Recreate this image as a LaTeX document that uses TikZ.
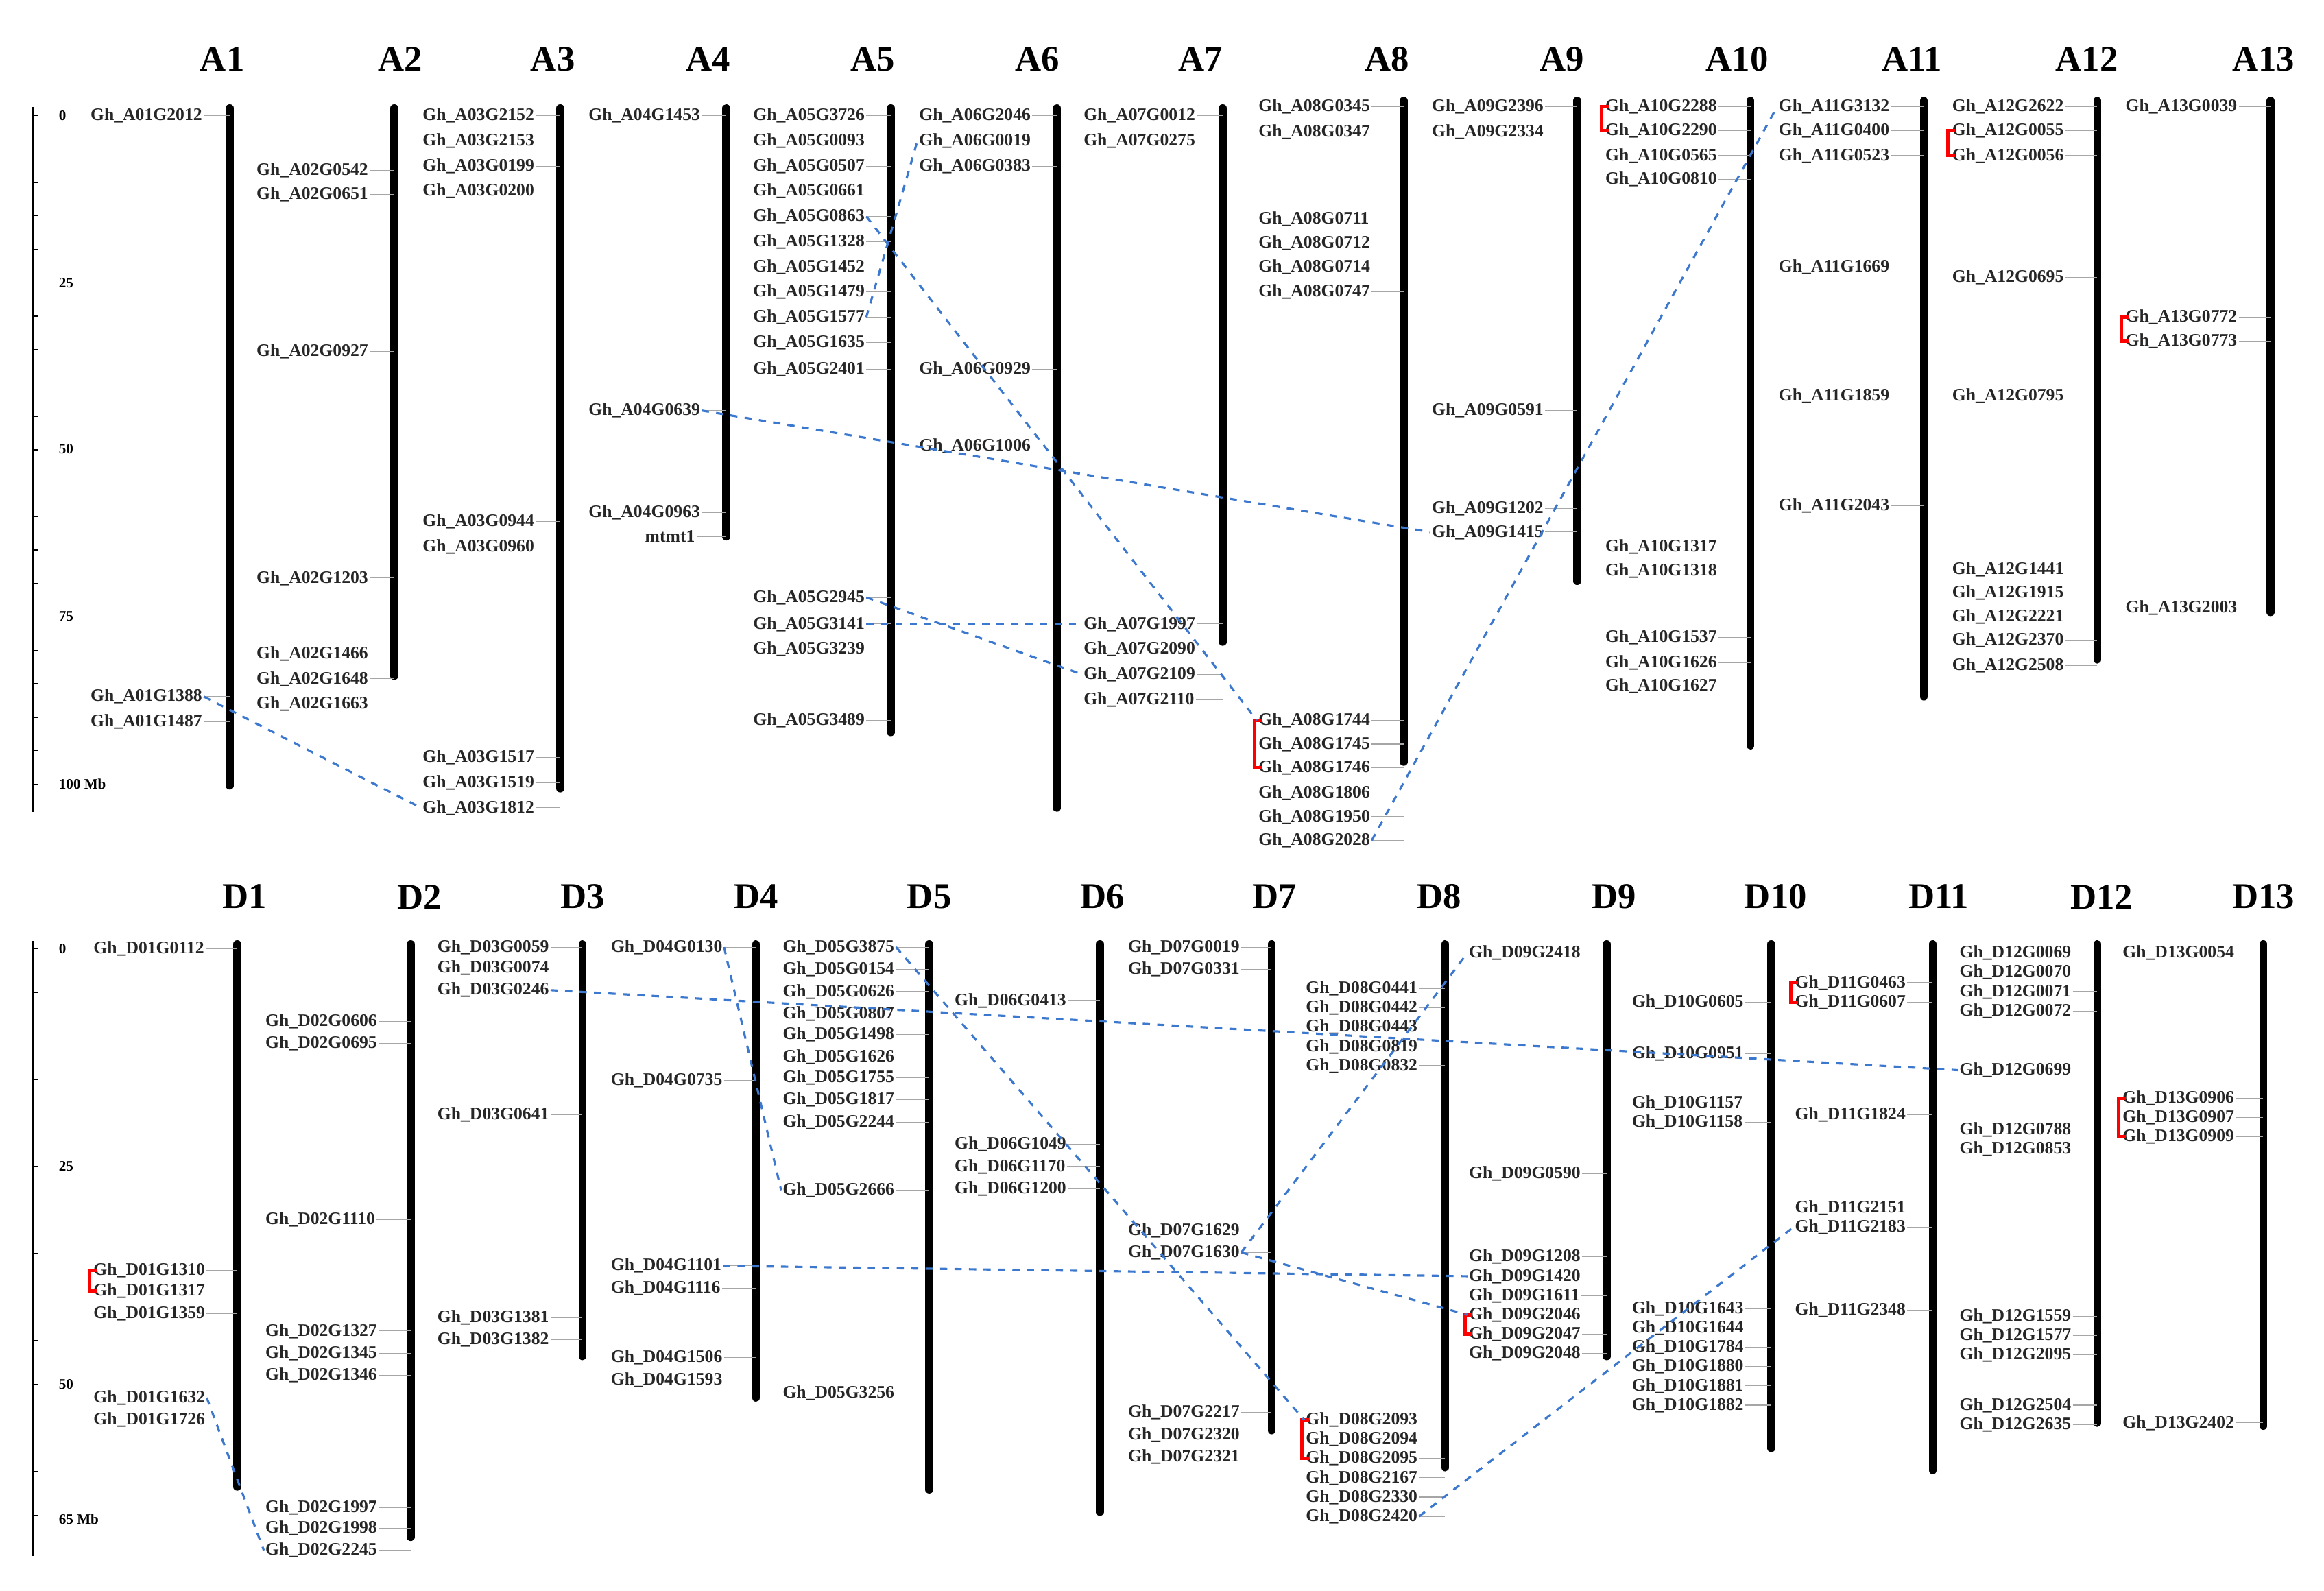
\documentclass[tikz,border=0pt]{standalone}
\usepackage{fontspec}
\setmainfont{Liberation Serif}
\definecolor{connblue}{RGB}{60,120,205}
\begin{document}
\begin{tikzpicture}[x=0.02161cm,y=-0.02161cm,
 lab/.style={font=\fontsize{7.3}{8}\selectfont\bfseries,inner sep=0.5pt,anchor=west,text=black!85},
 leader/.style={draw=black!35,line width=0.3pt},
 chrom/.style={line width=3.3pt,line cap=round},
 ttl/.style={font=\fontsize{15}{16}\selectfont\bfseries},
 conn/.style={draw=connblue,dashed,line width=0.9pt},
 brk/.style={draw=red,line width=1.4pt},
 sc/.style={font=\fontsize{6}{7}\selectfont\bfseries,anchor=west}]
\useasboundingbox (0,0) rectangle (1568,1073);
\newcommand\lb[4]{\node[lab] (#3) at (#1,#2) {Gh\_#3}; \draw[leader] (#3.east) -- (#4,#2);}
\newcommand\chr[5]{\draw[chrom] (#1,#2) -- (#1,#3); \node[ttl] (t#4) at (#5,40) {#4};}
\newcommand\chrb[5]{\draw[chrom] (#1,#2) -- (#1,#3); \node[ttl] (t#4) at (#5,605) {#4};}
\newcommand\brak[2]{\draw[brk] ([xshift=2pt]#1.west) -- ([xshift=-1pt]#1.west) -- ([xshift=-1pt]#2.west) -- ([xshift=2pt]#2.west);}
% scale bars
\draw[line width=0.6pt] (22,72) -- (22,548);
\foreach \i in {0,...,20} \draw[line width=0.4pt] (22,{78+\i*22.55}) -- (26,{78+\i*22.55});
\node[sc] (s0) at (34,78) {0}; \node[sc] (s25) at (34,191) {25}; \node[sc] (s50) at (34,303) {50};
\node[sc] (s75) at (34,416) {75}; \node[sc] (s100) at (34,529) {100 Mb};
\draw[line width=0.6pt] (22,635) -- (22,1050);
\foreach \i in {0,...,13} \draw[line width=0.4pt] (22,{640+\i*29.4}) -- (26,{640+\i*29.4});
\node[sc] (b0) at (34,640) {0}; \node[sc] (b25) at (34,787) {25}; \node[sc] (b50) at (34,934) {50};
\node[sc] (b65) at (34,1025) {65 Mb};
% top chromosomes
\chr{155}{73}{530}{A1}{150} \chr{266}{73}{456}{A2}{270} \chr{378}{73}{532}{A3}{373}
\chr{490}{73}{362}{A4}{478} \chr{601}{73}{494}{A5}{589} \chr{713}{73}{545}{A6}{700}
\chr{825}{73}{433}{A7}{810} \chr{947}{68}{514}{A8}{936} \chr{1064}{68}{392}{A9}{1054}
\chr{1181}{68}{503}{A10}{1172} \chr{1298}{68}{470}{A11}{1290} \chr{1415}{68}{445}{A12}{1408}
\chr{1532}{68}{413}{A13}{1527}
\foreach \n/\y in {A01G2012/78,A01G1388/470,A01G1487/487} {\lb{60}{\y}{\n}{155}}
\foreach \n/\y in {A02G0542/115,A02G0651/131,A02G0927/237,A02G1203/390,A02G1466/441,A02G1648/458,A02G1663/475} {\lb{172}{\y}{\n}{266}}
\foreach \n/\y in {A03G2152/78,A03G2153/95,A03G0199/112,A03G0200/129,A03G0944/352,A03G0960/369,A03G1517/511,A03G1519/528,A03G1812/545} {\lb{284}{\y}{\n}{378}}
\foreach \n/\y in {A04G1453/78,A04G0639/277,A04G0963/346} {\lb{396}{\y}{\n}{490}}
\node[lab,anchor=east] (mtmt1) at (470,362) {mtmt1}; \draw[leader] (mtmt1.east) -- (490,362);
\foreach \n/\y in {A05G3726/78,A05G0093/95,A05G0507/112,A05G0661/129,A05G0863/146,A05G1328/163,A05G1452/180,A05G1479/197,A05G1577/214,A05G1635/231,A05G2401/249,A05G2945/403,A05G3141/421,A05G3239/438,A05G3489/486} {\lb{507}{\y}{\n}{601}}
\foreach \n/\y in {A06G2046/78,A06G0019/95,A06G0383/112,A06G0929/249,A06G1006/301} {\lb{619}{\y}{\n}{713}}
\foreach \n/\y in {A07G0012/78,A07G0275/95,A07G1997/421,A07G2090/438,A07G2109/455,A07G2110/472} {\lb{730}{\y}{\n}{825}}
\foreach \n/\y in {A08G0345/72,A08G0347/89,A08G0711/148,A08G0712/164,A08G0714/180,A08G0747/197,A08G1744/486,A08G1745/502,A08G1746/518,A08G1806/535,A08G1950/551,A08G2028/567} {\lb{848}{\y}{\n}{947}}
\foreach \n/\y in {A09G2396/72,A09G2334/89,A09G0591/277,A09G1202/343,A09G1415/359} {\lb{965}{\y}{\n}{1064}}
\foreach \n/\y in {A10G2288/72,A10G2290/88,A10G0565/105,A10G0810/121,A10G1317/369,A10G1318/385,A10G1537/430,A10G1626/447,A10G1627/463} {\lb{1082}{\y}{\n}{1181}}
\foreach \n/\y in {A11G3132/72,A11G0400/88,A11G0523/105,A11G1669/180,A11G1859/267,A11G2043/341} {\lb{1199}{\y}{\n}{1298}}
\foreach \n/\y in {A12G2622/72,A12G0055/88,A12G0056/105,A12G0695/187,A12G0795/267,A12G1441/384,A12G1915/400,A12G2221/416,A12G2370/432,A12G2508/449} {\lb{1316}{\y}{\n}{1415}}
\foreach \n/\y in {A13G0039/72,A13G0772/214,A13G0773/230,A13G2003/410} {\lb{1433}{\y}{\n}{1532}}
\brak{A10G2288}{A10G2290} \brak{A08G1744}{A08G1746} \brak{A12G0055}{A12G0056} \brak{A13G0772}{A13G0773}
\draw[conn] (A01G1388.east) -- (A03G1812.west);
\draw[conn] (A04G0639.east) -- (A09G1415.west);
\draw[conn] (A05G0863.east) -- (A08G1744.west);
\draw[conn] (A05G1577.east) -- (A06G0019.west);
\draw[conn] (A05G2945.east) -- (A07G2109.west);
\draw[conn] (A05G3141.east) -- (A07G1997.west);
\draw[conn] (A08G2028.east) -- (A11G3132.west);
% bottom chromosomes
\chrb{160}{637}{1003}{D1}{165} \chrb{277}{637}{1037}{D2}{283} \chrb{393}{637}{915}{D3}{393}
\chrb{510}{637}{943}{D4}{510} \chrb{627}{637}{1005}{D5}{627} \chrb{742}{637}{1020}{D6}{744}
\chrb{858}{637}{965}{D7}{860} \chrb{975}{637}{990}{D8}{971} \chrb{1084}{637}{915}{D9}{1089}
\chrb{1195}{637}{977}{D10}{1198} \chrb{1304}{637}{992}{D11}{1308} \chrb{1415}{637}{960}{D12}{1418}
\chrb{1527}{637}{962}{D13}{1527}
\foreach \n/\y in {D01G0112/640,D01G1310/857,D01G1317/871,D01G1359/886,D01G1632/943,D01G1726/958} {\lb{62}{\y}{\n}{160}}
\foreach \n/\y in {D02G0606/689,D02G0695/704,D02G1110/823,D02G1327/898,D02G1345/913,D02G1346/928,D02G1997/1017,D02G1998/1031,D02G2245/1046} {\lb{178}{\y}{\n}{277}}
\foreach \n/\y in {D03G0059/639,D03G0074/653,D03G0246/668,D03G0641/752,D03G1381/889,D03G1382/904} {\lb{294}{\y}{\n}{393}}
\foreach \n/\y in {D04G0130/639,D04G0735/729,D04G1101/854,D04G1116/869,D04G1506/916,D04G1593/931} {\lb{411}{\y}{\n}{510}}
\foreach \n/\y in {D05G3875/639,D05G0154/654,D05G0626/669,D05G0807/684,D05G1498/698,D05G1626/713,D05G1755/727,D05G1817/742,D05G2244/757,D05G2666/803,D05G3256/940} {\lb{527}{\y}{\n}{627}}
\foreach \n/\y in {D06G0413/675,D06G1049/772,D06G1170/787,D06G1200/802} {\lb{643}{\y}{\n}{742}}
\foreach \n/\y in {D07G0019/639,D07G0331/654,D07G1629/830,D07G1630/845,D07G2217/953,D07G2320/968,D07G2321/983} {\lb{760}{\y}{\n}{858}}
\foreach \n/\y in {D08G0441/667,D08G0442/680,D08G0443/693,D08G0819/706,D08G0832/719,D08G2093/958,D08G2094/971,D08G2095/984,D08G2167/997,D08G2330/1010,D08G2420/1023} {\lb{880}{\y}{\n}{975}}
\foreach \n/\y in {D09G2418/643,D09G0590/792,D09G1208/848,D09G1420/861,D09G1611/874,D09G2046/887,D09G2047/900,D09G2048/913} {\lb{990}{\y}{\n}{1084}}
\foreach \n/\y in {D10G0605/676,D10G0951/711,D10G1157/744,D10G1158/757,D10G1643/883,D10G1644/896,D10G1784/909,D10G1880/922,D10G1881/935,D10G1882/948} {\lb{1100}{\y}{\n}{1195}}
\foreach \n/\y in {D11G0463/663,D11G0607/676,D11G1824/752,D11G2151/815,D11G2183/828,D11G2348/884} {\lb{1210}{\y}{\n}{1304}}
\foreach \n/\y in {D12G0069/643,D12G0070/656,D12G0071/669,D12G0072/682,D12G0699/722,D12G0788/762,D12G0853/775,D12G1559/888,D12G1577/901,D12G2095/914,D12G2504/948,D12G2635/961} {\lb{1321}{\y}{\n}{1415}}
\foreach \n/\y in {D13G0054/643,D13G0906/741,D13G0907/754,D13G0909/767,D13G2402/960} {\lb{1431}{\y}{\n}{1527}}
\brak{D01G1310}{D01G1317} \brak{D08G2093}{D08G2095} \brak{D09G2046}{D09G2047} \brak{D11G0463}{D11G0607} \brak{D13G0906}{D13G0909}
\draw[conn] (D01G1632.east) -- (D02G2245.west);
\draw[conn] (D03G0246.east) -- (D12G0699.west);
\draw[conn] (D04G0130.east) -- (D05G2666.west);
\draw[conn] (D05G3875.east) -- (D08G2093.west);
\draw[conn] (D04G1101.east) -- (D09G1420.west);
\draw[conn] (D07G1630.east) -- (D09G2046.west);
\draw[conn] (D07G1630.east) -- (D09G2418.west);
\draw[conn] (D08G2420.east) -- (D11G2183.west);
\end{tikzpicture}
\end{document}
